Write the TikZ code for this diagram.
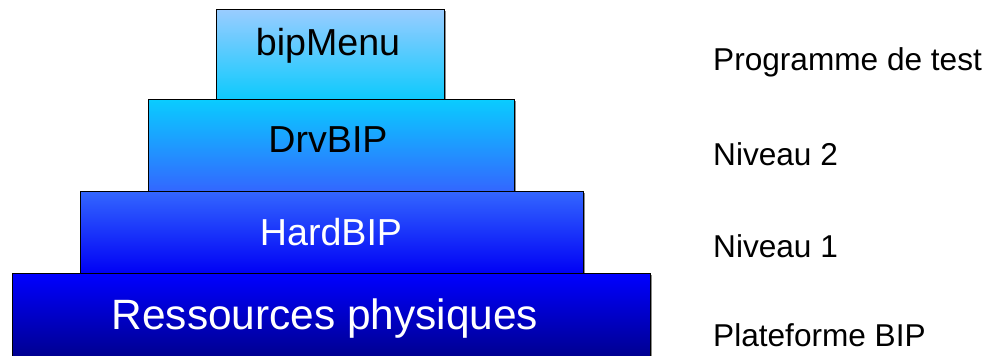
\documentclass[tikz,border=0pt]{standalone}
\usepackage{fontspec}
\setmainfont{Liberation Sans}
\definecolor{skyA}{HTML}{99CCFF}
\definecolor{skyB}{HTML}{0CCAFD}
\definecolor{cyanA}{HTML}{0ACCFF}
\definecolor{blueM}{HTML}{3366FF}
\definecolor{blueF}{HTML}{0000FF}
\definecolor{navy}{HTML}{000080}
\tikzset{
  layer/.style={draw=black, line width=1.4pt, inner sep=0pt, anchor=north west},
  shadowbox/.style={fill=black!45, inner sep=0pt, anchor=north west},
  boxtext/.style={anchor=base, inner sep=0pt, font=\fontsize{37.6}{42}\selectfont},
  sidetext/.style={anchor=base west, inner sep=0pt, font=\fontsize{31.6}{35}\selectfont}
}
\begin{document}
\begin{tikzpicture}[x=1pt, y=-1pt]
  \clip (0,0) rectangle (989,356);
  \fill[white] (0,0) rectangle (989,356);

  % soft grey shadows under the layers
  \node[shadowbox, minimum width=228pt, minimum height=90pt] (s1) at (218,11) {};
  \node[shadowbox, minimum width=366pt, minimum height=92pt] (s2) at (150,101) {};
  \node[shadowbox, minimum width=503pt, minimum height=82pt] (s3) at (82,193) {};
  \node[shadowbox, minimum width=638pt, minimum height=95pt] (s4) at (14,275) {};

  % the four stacked layers, bottom first
  \node[layer, top color=blueF, bottom color=navy,
        minimum width=638pt, minimum height=95pt] (ress) at (12,273) {};
  \node[layer, top color=blueM, bottom color=blueF!92!navy,
        minimum width=503pt, minimum height=82pt] (hard) at (80,191) {};
  \node[layer, top color=cyanA, bottom color=blueM,
        minimum width=366pt, minimum height=92pt] (drv) at (148,99) {};
  \node[layer, top color=skyA, bottom color=skyB,
        minimum width=228pt, minimum height=90pt] (menu) at (216,9) {};

  % layer names
  \node[boxtext, text=black] (tmenu) at (328,55) {bipMenu};
  \node[boxtext, text=black] (tdrv) at (328,152) {DrvBIP};
  \node[boxtext, text=white] (thard) at (331,245) {HardBIP};
  \node[boxtext, text=white, font=\fontsize{42.4}{47}\selectfont] (tress) at (325,329) {Ressources physiques};

  % level descriptions
  \node[sidetext] (lprog) at (713,70) {Programme de test};
  \node[sidetext] (lniv2) at (713,165) {Niveau 2};
  \node[sidetext] (lniv1) at (713,257) {Niveau 1};
  \node[sidetext] (lplat) at (713,346) {Plateforme BIP};
\end{tikzpicture}
\end{document}
